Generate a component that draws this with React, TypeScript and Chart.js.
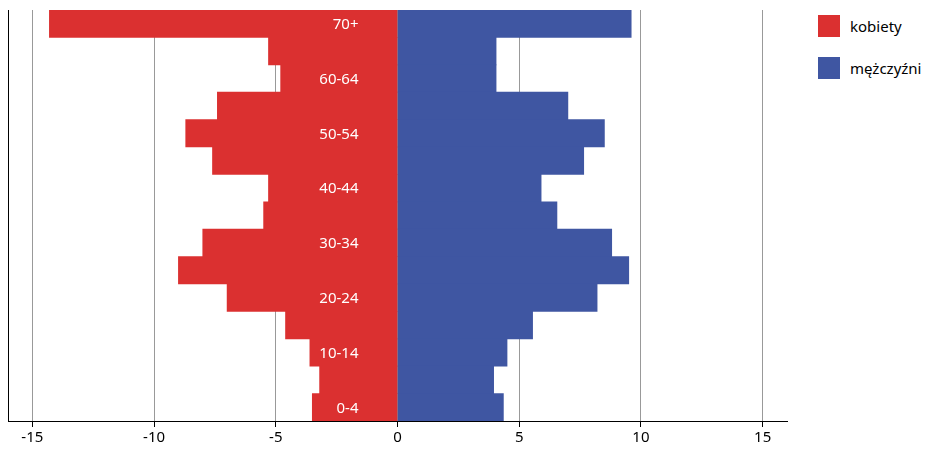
import React, { useEffect, useRef } from "react";
import Chart from "chart.js/auto";

const ageGroups = ["70+", "65-69", "60-64", "55-59", "50-54", "45-49", "40-44", "35-39", "30-34", "25-29", "20-24", "15-19", "10-14", "5-9", "0-4"];
const shownLabels = ["70+", "60-64", "50-54", "40-44", "30-34", "20-24", "10-14", "0-4"];
const women = [-14.3, -5.3, -4.8, -7.4, -8.7, -7.6, -5.3, -5.5, -8.0, -9.0, -7.0, -4.6, -3.6, -3.2, -3.5];
const men = [9.6, 4.05, 4.05, 7.0, 8.5, 7.65, 5.9, 6.55, 8.8, 9.5, 8.2, 5.55, 4.5, 3.95, 4.35];
const xTicks = [-15, -10, -5, 0, 5, 10, 15];

const FONT = "'Noto Sans', sans-serif";

const overlay = {
  id: "overlay",
  afterDatasetsDraw(chart: any) {
    const { ctx, chartArea, scales } = chart;
    ctx.save();
    ctx.strokeStyle = "#000";
    ctx.lineWidth = 1;
    ctx.beginPath();
    ctx.moveTo(chartArea.left + 0.5, chartArea.top);
    ctx.lineTo(chartArea.left + 0.5, chartArea.bottom);
    ctx.stroke();
    ctx.fillStyle = "#fff";
    ctx.font = `15px ${FONT}`;
    ctx.textAlign = "right";
    ctx.textBaseline = "middle";
    const x0 = scales.x.getPixelForValue(0) - 39;
    ageGroups.forEach((g, i) => {
      if (shownLabels.includes(g)) ctx.fillText(g, x0, scales.y.getPixelForValue(i) + 1);
    });
    ctx.restore();
  },
};

export default function App() {
  const canvasRef = useRef<HTMLCanvasElement | null>(null);

  useEffect(() => {
    if (!canvasRef.current) return;
    const chart = new Chart(canvasRef.current, {
      type: "bar",
      data: {
        labels: ageGroups,
        datasets: [
          { label: "kobiety", data: women, backgroundColor: "#db3030", borderWidth: 0, barPercentage: 1, categoryPercentage: 1 },
          { label: "mężczyźni", data: men, backgroundColor: "#3f56a2", borderWidth: 0, barPercentage: 1, categoryPercentage: 1 },
        ],
      },
      options: {
        indexAxis: "y",
        animation: false,
        responsive: false,
        layout: { padding: { left: 8, top: 10, right: 13, bottom: 3 } },
        plugins: { legend: { display: false }, tooltip: { enabled: false } },
        scales: {
          x: {
            min: -16,
            max: 16,
            afterBuildTicks: (s: any) => {
              s.ticks = xTicks.map((v) => ({ value: v }));
            },
            grid: { color: "#999", tickLength: 6, tickColor: "#000" },
            border: { color: "#000" },
            ticks: { color: "#000", font: { family: FONT, size: 15 }, padding: 2 },
          },
          y: { stacked: true, display: false },
        },
      },
      plugins: [overlay],
    });
    return () => chart.destroy();
  }, []);

  const item = (color: string, text: string, top: number) => (
    <div style={{ position: "absolute", left: 818, top, display: "flex", alignItems: "center" }}>
      <div style={{ width: 22, height: 22, background: color }} />
      <span style={{ marginLeft: 10, fontSize: 15, fontFamily: FONT, color: "#000" }}>{text}</span>
    </div>
  );

  return (
    <div style={{ position: "relative", width: 934, height: 452, margin: -8, background: "#fff" }}>
      <canvas ref={canvasRef} width={800} height={452} style={{ position: "absolute", left: 0, top: 0 }} />
      {item("#db3030", "kobiety", 15)}
      {item("#3f56a2", "mężczyźni", 57)}
    </div>
  );
}
